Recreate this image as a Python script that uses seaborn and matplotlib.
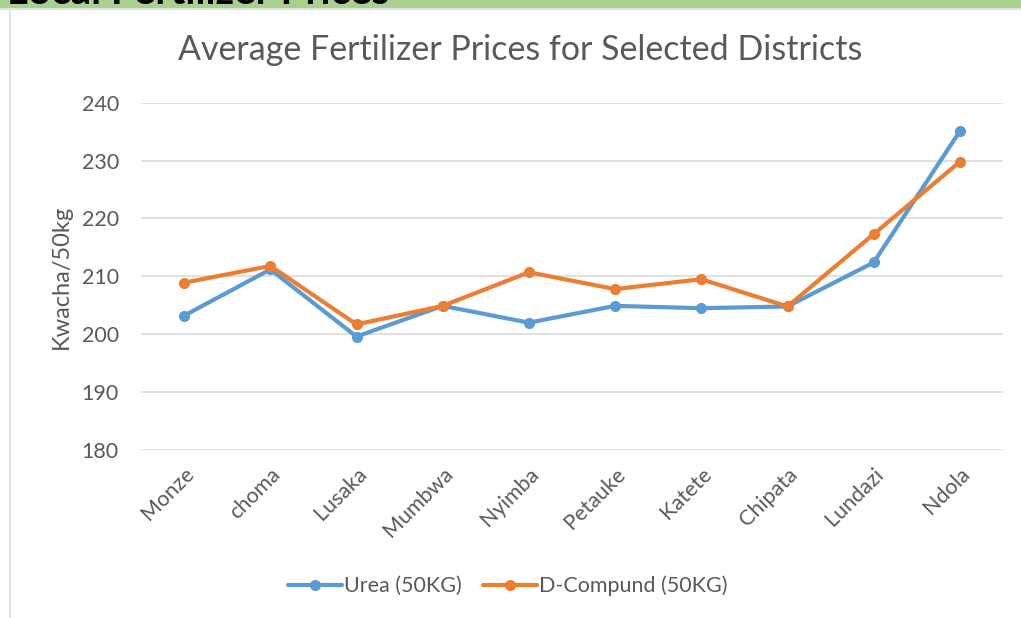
import pandas as pd
import matplotlib
matplotlib.use('Agg')
import matplotlib.pyplot as plt
import seaborn as sns
from matplotlib.patches import Rectangle
from matplotlib.lines import Line2D

# 数据
districts = ['Monze', 'choma', 'Lusaka', 'Mumbwa', 'Nyimba',
             'Petauke', 'Katete', 'Chipata', 'Lundazi', 'Ndola']
urea = [203.2, 211.2, 199.6, 204.9, 202.0, 204.9, 204.5, 204.8, 212.4, 235.1]
d_compound = [208.9, 211.8, 201.7, 204.9, 210.7, 207.8, 209.5, 204.8, 217.3, 229.8]
series_names = ['Urea (50KG)', 'D-Compund (50KG)']
y_ticks = [180, 190, 200, 210, 220, 230, 240]

colors = {'Urea (50KG)': '#5B9BD5', 'D-Compund (50KG)': '#ED7D31'}
text_gray = '#595959'
grid_gray = '#D9D9D9'

df = pd.DataFrame({
    'district': districts * 2,
    'price': urea + d_compound,
    'series': [series_names[0]] * len(districts) + [series_names[1]] * len(districts),
})

sns.set_style('white')
plt.rcParams['font.family'] = ['Lato', 'DejaVu Sans']

fig = plt.figure(figsize=(10.21, 6.18), dpi=100)

# 顶部绿色横幅 + 图表边框
fig.patches.append(Rectangle((0, 1 - 8 / 618), 1, 8 / 618, transform=fig.transFigure,
                             facecolor='#A9D18E', edgecolor='none', zorder=0))
fig.patches.append(Rectangle((0, 1 - 10 / 618), 1, 2 / 618, transform=fig.transFigure,
                             facecolor='#E3E3E3', edgecolor='none', zorder=0))
fig.patches.append(Rectangle((9 / 1021, 0), 2 / 1021, 1 - 10 / 618, transform=fig.transFigure,
                             facecolor='#E3E3E3', edgecolor='none', zorder=0))
fig.text(7 / 1021, 1 - 4.5 / 618, 'Local Fertilizer Prices', fontsize=29, fontweight='bold',
         color='black', ha='left', va='baseline')

ax = fig.add_axes([141 / 1021, 1 - 450 / 618, 862 / 1021, (450 - 102.7) / 618])

for name in series_names:
    sub = df[df['series'] == name]
    sns.lineplot(data=sub, x='district', y='price', ax=ax, sort=False,
                 color=colors[name], linewidth=3.0, marker='o', markersize=8,
                 markeredgewidth=0, label=name, legend=False)

ax.set_xlim(-0.5, len(districts) - 0.5)
ax.set_ylim(180, 240)
ax.set_yticks(y_ticks)
ax.grid(axis='y', color=grid_gray, linewidth=1.1)
ax.grid(axis='x', visible=False)
ax.set_axisbelow(True)
for s in ax.spines.values():
    s.set_visible(False)
ax.tick_params(axis='both', length=0, colors=text_gray, labelsize=15.5)
ax.tick_params(axis='y', pad=16)
ax.set_xticks(range(len(districts)))
ax.set_xticklabels(districts, rotation=45, ha='right', rotation_mode='anchor')
ax.tick_params(axis='x', pad=10)
ax.set_xlabel('')
ax.set_ylabel('Kwacha/50kg', fontsize=17, color=text_gray)
ax.yaxis.set_label_coords(72 / 1021, 1 - 277 / 618, transform=fig.transFigure)

fig.text(520 / 1021, 1 - 50 / 618, 'Average Fertilizer Prices for Selected Districts',
         fontsize=24.5, color=text_gray, ha='center', va='center')

handles = [Line2D([], [], color=colors[n], linewidth=3.0, marker='o', markersize=8,
                  markeredgewidth=0) for n in series_names]
fig.legend(handles, series_names, loc='center', bbox_to_anchor=(508 / 1021, 1 - 586 / 618),
           ncol=2, frameon=False, fontsize=15.5, handlelength=2.5, handletextpad=0.1,
           columnspacing=1.0, labelcolor=text_gray)

fig.savefig('out.png', dpi=100)
